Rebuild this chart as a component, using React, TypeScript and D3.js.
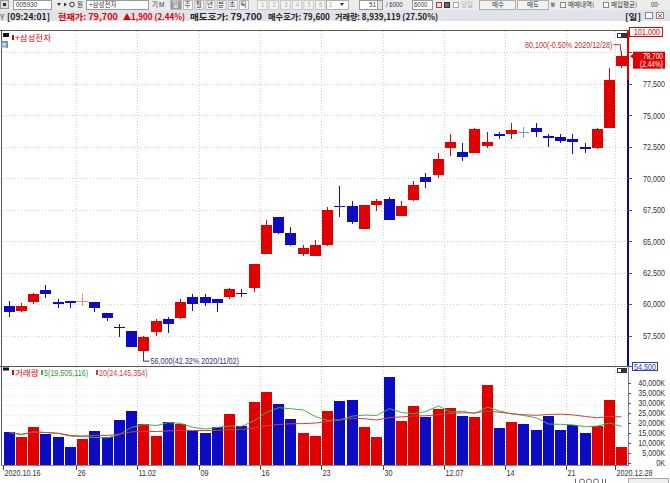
import React from "react";
import * as d3 from "d3";

const dates = [
  "2020-10-16", "2020-10-19", "2020-10-20", "2020-10-21", "2020-10-22", "2020-10-23",
  "2020-10-26", "2020-10-27", "2020-10-28", "2020-10-29", "2020-10-30",
  "2020-11-02", "2020-11-03", "2020-11-04", "2020-11-05", "2020-11-06",
  "2020-11-09", "2020-11-10", "2020-11-11", "2020-11-12", "2020-11-13",
  "2020-11-16", "2020-11-17", "2020-11-18", "2020-11-19", "2020-11-20",
  "2020-11-23", "2020-11-24", "2020-11-25", "2020-11-26", "2020-11-27",
  "2020-11-30", "2020-12-01", "2020-12-02", "2020-12-03", "2020-12-04",
  "2020-12-07", "2020-12-08", "2020-12-09", "2020-12-10", "2020-12-11",
  "2020-12-14", "2020-12-15", "2020-12-16", "2020-12-17", "2020-12-18",
  "2020-12-21", "2020-12-22", "2020-12-23", "2020-12-24", "2020-12-28",
];
const open = [
  59900, 59500, 60200, 61100, 60200, 60300, 60300, 60200, 59300, 58200, 57900,
  56300, 57800, 58800, 58900, 60600, 60600, 60400, 60600, 60900, 61300,
  64000, 66900, 65700, 64000, 63800, 64700, 67800, 67800, 66000, 67900,
  68400, 67000, 68300, 70100, 70300, 72400, 72100, 72000, 72600, 73500,
  73500, 73700, 74000, 73400, 73300, 73100, 72500, 72400, 74000, 78900,
];
const high = [
  60300, 60100, 60900, 61500, 60400, 60300, 60900, 60200, 59300, 58400, 57900,
  57500, 58800, 59000, 60400, 60800, 60800, 60400, 61300, 61200, 63200,
  66700, 66900, 66100, 64700, 65100, 67700, 69400, 68200, 67900, 68400,
  68500, 68200, 69800, 70400, 72000, 73500, 72800, 74000, 73700, 73700,
  74400, 74100, 74400, 73500, 73500, 73500, 72800, 74000, 78800, 80100,
];
const low = [
  59000, 59400, 60000, 60500, 59700, 59700, 59900, 59400, 58700, 57400, 56600,
  56000, 57500, 57700, 58800, 59500, 59900, 59400, 60400, 60600, 61000,
  64000, 65600, 64600, 63800, 63800, 64600, 66900, 66400, 66000, 67400,
  66700, 67000, 68200, 69200, 70000, 71800, 71400, 72000, 72400, 73100,
  73100, 73200, 73300, 72500, 72800, 71900, 72000, 72300, 74000, 78800,
];
const close = [
  59400, 59900, 60800, 60800, 60000, 60100, 60300, 59700, 58900, 58100, 56600,
  57400, 58700, 58400, 60200, 60000, 60100, 60100, 61200, 60800, 63200,
  66300, 65700, 64700, 64500, 64700, 67500, 67700, 66500, 67900, 68200,
  66700, 67800, 69500, 69700, 71500, 72900, 71700, 73900, 72900, 73400,
  73800, 73700, 73700, 73200, 73000, 72900, 72300, 73900, 77800, 79700,
];
// volume in thousands of shares
const volume = [
  16300, 14200, 19200, 15300, 14200, 9200, 13000, 17200, 14200, 22500, 27000,
  20300, 14700, 21700, 20500, 17000, 15800, 18800, 25500, 19500, 31300,
  36700, 30300, 23000, 16200, 14700, 27000, 32000, 32300, 18800, 13800,
  44000, 22200, 29700, 23800, 28000, 28300, 24700, 23800, 40000, 18300,
  21300, 20700, 17500, 24700, 17500, 20000, 15800, 19300, 32500, 8939,
];

const priceTicks = [57500, 60000, 62500, 65000, 67500, 70000, 72500, 75000, 77500, 80000];
const volumeTicks = [0, 5000, 10000, 15000, 20000, 25000, 30000, 35000, 40000];
const tickDates = ["2020-10-16", "2020-10-26", "2020-11-02", "2020-11-09", "2020-11-16", "2020-11-23", "2020-11-30", "2020-12-07", "2020-12-14", "2020-12-21", "2020-12-28"];
const tickLabels = ["2020.10.16", "26", "11.02", "09", "16", "23", "30", "12.07", "14", "21", "2020.12.28"];
const limitPrices = [101000, 54500];
const stockName = "+삼성전자";
const stockCode = "005930";
const quoteTime = "09:24:01";
const askBid = [79700, 79600];
const volumeToday = 8939119;
const volumeRatio = "27.50%";
const maPeriods = [5, 20];
const maLabels = ["5(19,505,116)", "20(24,145,354)"];
const periodTabs = ["일", "주", "월", "년", "분", "초", "틱"];
const numTabs = ["1", "2", "3", "4", "5", "6"];

const RED = "#e00000";
const BLUE = "#0c0cc4";
const LRED = "#f08c8c";
const LBLUE = "#8c8ce8";
const MA_COLORS = ["#44b044", "#cc4040"];
const NUM = "'Liberation Sans',Arial,sans-serif";
const KR = "'Noto Sans CJK KR','Noto Sans',sans-serif";
const fmt = d3.format(",");

function NT(props: { x: number; y: number; anchor?: string; size?: number; fill?: string; sx?: number; children: React.ReactNode }) {
  const { x, y, anchor = "start", size = 9, fill = "#333", sx = 0.8, children } = props;
  return (
    <text transform={`translate(${x},${y}) scale(${sx},1)`} textAnchor={anchor as any} fontSize={size} fill={fill} fontFamily={NUM}>
      {children}
    </text>
  );
}

export default function App() {
  const W = 670, H = 483;
  const L = 3, R = 628, pTop = 31, pBot = 366, vBot = 465;
  const n = dates.length;
  const x = d3.scaleBand<string>().domain(dates).range([L, R]).paddingInner(0.1).paddingOuter(0.05);
  const bw = Math.round(x.bandwidth());
  const xl = (d: string) => Math.round(x(d) as number);
  const xc = (d: string) => xl(d) + Math.floor(bw / 2) + 0.5;
  const yP = d3.scaleLinear().domain([55100, 81700]).range([pBot, pTop]);
  const yV = d3.scaleLinear().domain([0, 40000]).range([vBot, 385]);

  const rows = dates.map((d, i) => ({
    d, i, o: open[i], h: high[i], l: low[i], c: close[i], v: volume[i],
    pc: i > 0 ? close[i - 1] : open[i],
  }));
  type Row = typeof rows[number];
  const candleColor = (k: Row) => (k.c > k.o ? RED : k.c < k.o ? BLUE : k.c >= k.pc ? LRED : LBLUE);
  const volColor = (k: Row) => (k.c > k.o ? RED : k.c < k.o ? BLUE : k.c >= k.pc ? RED : BLUE);

  const maSeries = maPeriods.map((p) =>
    volume.map((_, i) => d3.mean(volume.slice(Math.max(0, i - p + 1), i + 1)) as number)
  );
  const maLine = d3.line<number>().x((_, i) => xc(dates[i])).y((v) => yV(v));

  const last = close[n - 1], prev = close[n - 2];
  const chg = last - prev;
  const chgPct = ((chg / prev) * 100).toFixed(2);
  const maxI = d3.maxIndex(high), minI = d3.minIndex(low);
  const pctFrom = (p: number) => (((last - p) / p) * 100).toFixed(2);
  const slash = (d: string) => d.replace(/-/g, "/");
  const yHigh = yP(high[maxI]);
  const yLow = yP(low[minI]);
  const yLast = yP(last);
  const yPrev = yP(prev);
  // tick labels hidden under the current-price box are not drawn (as in the HTS)
  const visiblePriceTicks = priceTicks.filter((t) => Math.abs(yP(t) - (yLast + 4)) > 12);

  const grid = "#cfcfcf";

  return (
    <div style={{ width: W, height: H }}>
      <style>{"body{margin:0;background:#fff}"}</style>
      <svg width={W} height={H} style={{ display: "block" }}>
        <rect x={0} y={0} width={W} height={H} fill="#fff" />
        {/* toolbar */}
        <rect x={0} y={0} width={W} height={10} fill="#ececec" />
        <g fontFamily={KR} fontSize={6.5} fill="#333">
          <rect x={0.5} y={0.5} width={8} height={8} fill="#dcdcdc" stroke="#999" />
          <rect x={3} y={3} width={3} height={3} fill="#333" />
          <rect x={13.5} y={0.5} width={38} height={9} fill="#fff" stroke="#9a9a9a" />
          <NT x={16} y={7.2} size={7.5} fill="#333" sx={0.85}>{stockCode}</NT>
          <path d="M57,3 L61,3 L59,6 Z" fill="#333" />
          <path d="M64,2.5 L67,4.5 L64,6.5 Z" fill="#333" />
          <circle cx={72} cy={4.5} r={2.3} fill="none" stroke="#333" />
          <text x={77} y={7.2}>뭔</text>
          <rect x={86.5} y={0.5} width={62} height={9} fill="#fff" stroke="#9a9a9a" />
          <text x={89} y={7.2}>{stockName}</text>
          <text x={152} y={7.2}>기</text>
          <text x={159} y={7.2} fontFamily={NUM}>M</text>
          {periodTabs.map((t, i) => {
            const tx = i === 0 ? 170 : 183 + (i - 1) * 11.2;
            return (
              <g key={t}>
                <rect x={tx + 0.5} y={0.5} width={i === 0 ? 11 : 9} height={9} fill={i === 0 ? "#9a9a9a" : "#f6f6f6"} stroke="#b8b8b8" />
                <text x={tx + (i === 0 ? 2.5 : 1.5)} y={7.2} fill={i === 0 ? "#fff" : "#333"}>{t}</text>
              </g>
            );
          })}
          {numTabs.map((t, i) => (
            <g key={"n" + t}>
              <rect x={257.5 + i * 11.6} y={0.5} width={9.5} height={9} fill="#f4f4f4" stroke="#c8c8c8" />
              <NT x={261 + i * 11.6} y={7.2} size={7.5} fill="#b0b0b0">{t}</NT>
            </g>
          ))}
          <rect x={326.5} y={0.5} width={22} height={9} fill="#fff" stroke="#b0b0b0" />
          <NT x={329} y={7.2} size={7.5} fill="#999">1</NT>
          <path d="M340,3 L344,3 L342,6 Z" fill="#333" />
          <rect x={359.5} y={0.5} width={18} height={9} fill="#fff" stroke="#9a9a9a" />
          <NT x={376} y={7.2} anchor="end" size={7.5}>{n}</NT>
          <rect x={377.5} y={0.5} width={5} height={9} fill="#e4e4e4" stroke="#9a9a9a" />
          <NT x={386} y={7.2} size={7.5}>/ 6000</NT>
          <rect x={412.5} y={0.5} width={20} height={9} fill="#fff" stroke="#9a9a9a" />
          <NT x={414} y={7.2} size={7.5}>6000</NT>
          <rect x={436.5} y={2.5} width={5} height={5} fill="none" stroke="#cc3333" />
          <rect x={444.5} y={2.5} width={5} height={5} fill="#666" stroke="#333" />
          <rect x={453.5} y={2.5} width={5} height={5} fill="#fff" stroke="#aaa" />
          <text x={461} y={7.2} fill="#aaa">당일</text>
          <rect x={479.5} y={0.5} width={36} height={9} fill="#f2f2f2" stroke="#b0b0b0" />
          <text x={492} y={7.2}>매수</text>
          <rect x={517.5} y={0.5} width={31} height={9} fill="#f2f2f2" stroke="#b0b0b0" />
          <text x={527} y={7.2}>매도</text>
          <text x={551} y={7.2}>₩</text>
          <rect x={560.5} y={2.5} width={5} height={5} fill="#fff" stroke="#888" />
          <text x={568} y={7.2}>매매내역(</text>
          <rect x={603.5} y={2.5} width={5} height={5} fill="#fff" stroke="#888" />
          <text x={611} y={7.2}>매입평균)</text>
          <NT x={651} y={7.2} size={7.5}>00·</NT>
        </g>
        {/* info row */}
        <rect x={0} y={10} width={W} height={11} fill="#dfe4ea" />
        <g fontFamily={KR} fontSize={8.5} fontWeight="bold">
          <text x={0} y={20} fill="#777" fontSize={7.5}>Y</text>
          <text x={7} y={20} fill="#222" textLength={43} lengthAdjust="spacingAndGlyphs">[{quoteTime}]</text>
          <text x={58} y={20} fill={RED} textLength={60} lengthAdjust="spacingAndGlyphs">현재가: {fmt(last)}</text>
          <text x={123} y={20} fill={RED} textLength={62} lengthAdjust="spacingAndGlyphs">▲{fmt(chg)} ({chgPct}%)</text>
          <text x={190} y={20} fill="#222" textLength={72} lengthAdjust="spacingAndGlyphs">매도호가: {fmt(askBid[0])}</text>
          <text x={268} y={20} fill="#222" textLength={62} lengthAdjust="spacingAndGlyphs">매수호가: {fmt(askBid[1])}</text>
          <text x={335} y={20} fill="#222" textLength={103} lengthAdjust="spacingAndGlyphs">거래량: {fmt(volumeToday)} ({volumeRatio})</text>
          <text x={625} y={20} fill="#222" textLength={16} lengthAdjust="spacingAndGlyphs">[일]</text>
        </g>
        <rect x={645.5} y={12.5} width={7} height={6} fill="#fff" stroke="#888" />
        <rect x={656.5} y={12.5} width={7} height={6} fill="#fff" stroke="#888" />
        <path d="M658,14 L662,17.5 M662,14 L658,17.5" stroke="#c33" />

        {/* grid */}
        <g stroke={grid} strokeDasharray="1,2" shapeRendering="crispEdges">
          {priceTicks.map((t) => (
            <line key={"hp" + t} x1={L} x2={R} y1={Math.round(yP(t)) + 0.5} y2={Math.round(yP(t)) + 0.5} />
          ))}
          {volumeTicks.slice(1).map((t) => (
            <line key={"hv" + t} x1={L} x2={R} y1={Math.round(yV(t)) + 0.5} y2={Math.round(yV(t)) + 0.5} stroke="#e2e2e2" />
          ))}
          {tickDates.slice(1).map((d) => (
            <line key={"vg" + d} x1={xl(d) - 0.5} x2={xl(d) - 0.5} y1={pTop} y2={vBot} />
          ))}
        </g>

        {/* volume bars */}
        <g shapeRendering="crispEdges">
          {rows.map((k) => (
            <rect key={"v" + k.d} x={xl(k.d)} y={Math.round(yV(k.v))} width={bw} height={vBot - Math.round(yV(k.v))} fill={volColor(k)} />
          ))}
        </g>
        {maSeries.map((s, j) => (
          <path key={"ma" + j} d={maLine(s) as string} fill="none" stroke={MA_COLORS[j]} strokeWidth={1} />
        ))}

        {/* candles */}
        <g shapeRendering="crispEdges">
          {rows.map((k) => {
            const col = candleColor(k);
            const top = Math.round(yP(Math.max(k.o, k.c)));
            const bot = Math.round(yP(Math.min(k.o, k.c)));
            const h = Math.max(1, bot - top);
            return (
              <g key={"c" + k.d}>
                <line x1={xc(k.d)} x2={xc(k.d)} y1={Math.round(yP(k.h))} y2={Math.round(yP(k.l))} stroke={col} />
                {k.o === k.c ? (
                  <line x1={xl(k.d)} x2={xl(k.d) + bw} y1={top + 0.5} y2={top + 0.5} stroke={col} />
                ) : (
                  <rect x={xl(k.d)} y={top} width={bw} height={h} fill={col} />
                )}
              </g>
            );
          })}
        </g>

        {/* frame */}
        <g shapeRendering="crispEdges">
          <line x1={0} x2={R + 4} y1={30.5} y2={30.5} stroke="#555" />
          <line x1={1.5} x2={1.5} y1={30} y2={vBot + 1} stroke="#555" />
          <line x1={0} x2={R + 4} y1={pBot + 0.5} y2={pBot + 0.5} stroke="#555" />
          <line x1={1} x2={R} y1={vBot + 0.5} y2={vBot + 0.5} stroke="#888" />
          <line x1={R} x2={R} y1={pTop} y2={yPrev} stroke={RED} strokeWidth={2} />
          <line x1={R} x2={R} y1={yPrev} y2={pBot} stroke="#0a0a90" strokeWidth={2} />
          <line x1={R + 0.5} x2={R + 0.5} y1={pBot} y2={vBot + 1} stroke="#7a7a9a" />
        </g>

        {/* price axis */}
        {priceTicks.map((t) => (
          <line key={"ptl" + t} x1={R} x2={R + 4} y1={Math.round(yP(t)) + 0.5} y2={Math.round(yP(t)) + 0.5} stroke="#555" />
        ))}
        {visiblePriceTicks.map((t) => (
          <NT key={"pt" + t} x={665} y={yP(t) + 3.2} anchor="end">{fmt(t)}</NT>
        ))}
        {volumeTicks.map((t) => (
          <g key={"vt" + t}>
            <line x1={R} x2={R + 3} y1={Math.round(yV(t)) - 1.5} y2={Math.round(yV(t)) - 1.5} stroke="#555" />
            <NT x={665} y={yV(t) + 1.2} anchor="end">{fmt(t)}K</NT>
          </g>
        ))}

        {/* date axis */}
        {tickDates.map((d, i) => (
          <g key={"dt" + d}>
            <line x1={xl(d) - 0.5} x2={xl(d) - 0.5} y1={vBot} y2={vBot + 5} stroke="#444" shapeRendering="crispEdges" />
            <NT x={xl(d) + 0.5} y={476}>{tickLabels[i]}</NT>
          </g>
        ))}

        {/* limit boxes */}
        <rect x={629.5} y={27.5} width={33} height={9} fill="#fff" stroke={RED} shapeRendering="crispEdges" />
        <NT x={660} y={35} anchor="end" fill={RED}>{fmt(limitPrices[0])}</NT>
        <rect x={632.5} y={362.5} width={25} height={8} fill="#fff" stroke="#3040b0" shapeRendering="crispEdges" />
        <NT x={656} y={369.5} anchor="end" fill="#3040b0">{fmt(limitPrices[1])}</NT>

        {/* current price box */}
        <path d={`M${R + 2},${yLast} L${R + 6},${yLast - 3} L${R + 6},${yLast + 3} Z`} fill={RED} />
        <rect x={633} y={yLast - 4.5} width={32} height={17} fill={RED} />
        <NT x={663} y={yLast + 2.8} anchor="end" size={8.2} fill="#fff">{fmt(last)}</NT>
        <NT x={663} y={yLast + 11.3} anchor="end" size={8.2} fill="#fff">({chgPct}%)</NT>

        {/* high / low annotations */}
        <NT x={xc(dates[maxI]) - 9} y={yHigh - 3} anchor="end" fill="#c03030">
          {fmt(high[maxI])}({pctFrom(high[maxI])}% {slash(dates[maxI])})
        </NT>
        <path d={`M${xc(dates[maxI]) - 8},${yHigh - 6.5} H${xc(dates[maxI]) - 1} V${yHigh}`} fill="none" stroke="#c03030" />
        <path d={`M${xc(dates[minI])},${yLow} V${yLow + 6.5} H${xc(dates[minI]) + 6}`} fill="none" stroke="#303090" />
        <NT x={xc(dates[minI]) + 7} y={yLow + 9.5} fill="#303090">
          {fmt(low[minI])}({pctFrom(low[minI])}% {slash(dates[minI])})
        </NT>

        {/* legends */}
        <rect x={3} y={33} width={6} height={4} fill="#111" />
        <rect x={12} y={35} width={2} height={5} fill={RED} />
        <text x={15} y={40.5} fontFamily={KR} fontSize={8.5} fill={RED}>{stockName}</text>
        <rect x={1} y={41} width={7} height={7} fill="#6a8cc0" />
        <text x={1.5} y={47} fontFamily={KR} fontSize={6} fill="#fff">호</text>
        <rect x={617.5} y={33.5} width={4} height={4} fill="#fff" stroke="#333" />
        <rect x={622.5} y={33.5} width={4} height={4} fill="#333" stroke="#333" />

        <rect x={3} y={367.5} width={6} height={3} fill="#111" />
        <rect x={12} y={370} width={2} height={5} fill={RED} />
        <text x={15} y={375.5} fontFamily={KR} fontSize={8.5} fill={RED}>거래량</text>
        <rect x={41} y={370} width={2} height={5} fill={MA_COLORS[0]} />
        <NT x={44} y={375.5} fill="#2f9a2f">{maLabels[0]}</NT>
        <rect x={96} y={370} width={2} height={5} fill={MA_COLORS[1]} />
        <NT x={99} y={375.5} fill={MA_COLORS[1]}>{maLabels[1]}</NT>
        <rect x={617.5} y={368.5} width={4} height={4} fill="#fff" stroke="#333" />
        <rect x={622.5} y={368.5} width={4} height={4} fill="#333" stroke="#333" />

        {/* bottom controls */}
        <g stroke="#666" fill="none">
          <line x1={575.5} x2={575.5} y1={479} y2={483} />
          <circle cx={582} cy={481.5} r={2.5} />
          <circle cx={589} cy={481.5} r={2.5} />
          <circle cx={596} cy={481.5} r={2.5} />
          <line x1={602.5} x2={602.5} y1={479} y2={483} />
          <line x1={605.5} x2={605.5} y1={479} y2={483} />
          <rect x={628.5} y={478.5} width={40} height={6} fill="#f0f0f0" stroke="#aaa" />
        </g>
      </svg>
    </div>
  );
}
